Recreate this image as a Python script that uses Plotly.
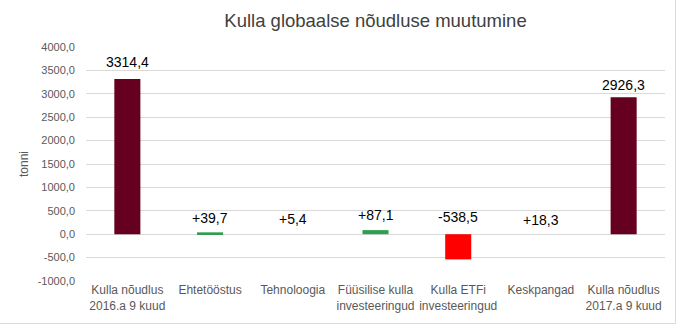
import plotly.graph_objects as go

categories = ["Kulla nõudlus<br>2016.a 9 kuud", "Ehtetööstus", "Tehnoloogia",
              "Füüsilise kulla<br>investeeringud", "Kulla ETFi<br>investeeringud",
              "Keskpangad", "Kulla nõudlus<br>2017.a 9 kuud"]
values = [3314.4, 39.7, 5.4, 87.1, -538.5, 18.3, 2926.3]
labels = ["3314,4", "+39,7", "+5,4", "+87,1", "-538,5", "+18,3", "2926,3"]
colors = ["#660020", "#2f9e4e", "rgba(0,0,0,0)", "#2f9e4e", "#ff0000",
          "rgba(0,0,0,0)", "#660020"]
label_shift = [17, 14, 15, 15, 17, 13, 12]
tick_vals = [-1000, -500, 0, 500, 1000, 1500, 2000, 2500, 3000, 3500, 4000]
tick_text = ["-1000,0", "-500,0", "0,0", "500,0", "1000,0", "1500,0", "2000,0",
             "2500,0", "3000,0", "3500,0", "4000,0"]

fig = go.Figure()
fig.add_trace(go.Bar(x=categories, y=values, marker_color=colors,
                     marker_line_width=0, hoverinfo="skip"))

for c, v, t, s in zip(categories, values, labels, label_shift):
    fig.add_annotation(x=c, y=max(v, 0), text=t, showarrow=False,
                       yshift=s, yanchor="middle",
                       font=dict(family="Liberation Sans, Arial", size=14, color="#000000"))

W, H = 679, 325
ml, mr, mt, mb = 86, 14, 47, 44
pw, ph = W - ml - mr, H - mt - mb
# right and bottom frame edges of the chart area
xr = (W - 3.5 - ml) / pw
yb = -(mb - 1.5) / ph
fig.add_shape(type="line", xref="paper", yref="paper", x0=xr, x1=xr, y0=yb,
              y1=(H - mb + 5) / ph, line=dict(color="#d9d9d9", width=1))
fig.add_shape(type="line", xref="paper", yref="paper", x0=-ml / pw, x1=xr, y0=yb,
              y1=yb, line=dict(color="#d9d9d9", width=1))

fig.update_layout(
    width=W, height=H,
    margin=dict(l=ml, r=mr, t=mt, b=mb),
    paper_bgcolor="white", plot_bgcolor="white",
    bargap=0.685,
    showlegend=False,
    title=dict(text="Kulla globaalse nõudluse muutumine", x=0.5, xref="paper",
               xanchor="center", y=1 - 21 / H, yanchor="middle",
               font=dict(family="Liberation Sans, Arial", size=18.5, color="#404040")),
    font=dict(family="Liberation Sans, Arial", color="#595959"),
)
fig.update_xaxes(showgrid=False, showline=False, ticks="",
                 tickfont=dict(size=12, color="#595959"))
fig.update_yaxes(range=[-1000, 4000], tickvals=tick_vals, ticktext=tick_text,
                 showgrid=True, gridcolor="#d9d9d9", gridwidth=1,
                 zeroline=False, showline=False, ticks="",
                 ticklabelstandoff=10,
                 tickfont=dict(size=11, color="#595959"),
                 title=dict(text="tonni", standoff=6,
                            font=dict(size=12, color="#595959")))

fig.write_html("out.html")
